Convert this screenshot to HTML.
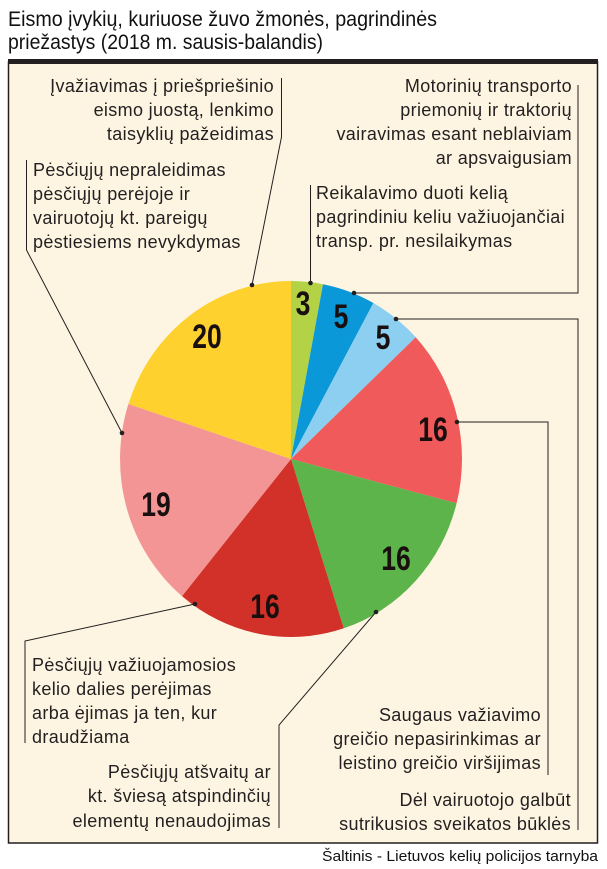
<!DOCTYPE html>
<html><head><meta charset="utf-8"><style>
body{margin:0;width:607px;height:869px;background:#fff;overflow:hidden}
svg{display:block}
.t{font-family:"Liberation Sans",sans-serif;font-size:18px;letter-spacing:0.35px;fill:#231f20}
.n{font-family:"Liberation Sans",sans-serif;font-weight:bold;font-size:34px;fill:#1a0f0f;text-anchor:middle}
</style></head><body>
<svg width="607" height="869" viewBox="0 0 607 869">
<text x="8" y="26" textLength="429" lengthAdjust="spacingAndGlyphs" style="font-family:'Liberation Sans',sans-serif;font-size:21px;fill:#111">Eismo įvykių, kuriuose žuvo žmonės, pagrindinės</text>
<text x="8" y="49" textLength="315" lengthAdjust="spacingAndGlyphs" style="font-family:'Liberation Sans',sans-serif;font-size:21px;fill:#111">priežastys (2018 m. sausis-balandis)</text>
<rect x="8.5" y="62" width="589" height="781" fill="#fdf5e2" stroke="#231f20" stroke-width="1.5"/>
<rect x="8" y="59" width="590" height="5" fill="#231f20"/>
<g stroke="none">
<path d="M291,459 L291,281 A171,178 0 0 1 323,284.2Z" fill="#b3d245"/>
<path d="M291,459 L323,284.2 A171,178 0 0 1 373.4,303Z" fill="#0a98d8"/>
<path d="M291,459 L373.4,303 A171,178 0 0 1 415.7,337.2Z" fill="#8ccff0"/>
<path d="M291,459 L415.7,337.2 A171,178 0 0 1 456.6,503.3Z" fill="#f15a5a"/>
<path d="M291,459 L456.6,503.3 A171,178 0 0 1 343.8,628.3Z" fill="#5cb44a"/>
<path d="M291,459 L343.8,628.3 A171,178 0 0 1 182,596.1Z" fill="#d13128"/>
<path d="M291,459 L182,596.1 A171,178 0 0 1 128.4,404Z" fill="#f39595"/>
<path d="M291,459 L128.4,404 A171,178 0 0 1 291,281Z" fill="#fed12e"/>
</g>
<g transform="translate(303,315) scale(0.78,1)"><text class="n" x="0" y="0">3</text></g>
<g transform="translate(341,328) scale(0.78,1)"><text class="n" x="0" y="0">5</text></g>
<g transform="translate(383,349) scale(0.78,1)"><text class="n" x="0" y="0">5</text></g>
<g transform="translate(433,441) scale(0.78,1)"><text class="n" x="0" y="0">16</text></g>
<g transform="translate(396,570) scale(0.78,1)"><text class="n" x="0" y="0">16</text></g>
<g transform="translate(265,618) scale(0.78,1)"><text class="n" x="0" y="0">16</text></g>
<g transform="translate(156,516) scale(0.78,1)"><text class="n" x="0" y="0">19</text></g>
<g transform="translate(207,348) scale(0.78,1)"><text class="n" x="0" y="0">20</text></g>
<g fill="none" stroke="#231f20" stroke-width="1">
<polyline points="281.5,78 281.5,137 252,285"/>
<polyline points="26.5,160 26.5,250 122,433"/>
<polyline points="310.5,185 310.5,283"/>
<polyline points="354,293 578,293 578,85"/>
<polyline points="396,319 578,319 578,830"/>
<polyline points="457,422 548,422 548,775"/>
<polyline points="376,612 279,725 279,828"/>
<polyline points="195,604 25,641 25,743"/>
</g>
<g fill="#231f20">
<circle cx="252" cy="285" r="2.3"/><circle cx="122" cy="433" r="2.3"/><circle cx="310.5" cy="283" r="2.3"/>
<circle cx="354" cy="293" r="2.3"/><circle cx="396" cy="319" r="2.3"/><circle cx="457" cy="422" r="2.3"/>
<circle cx="376" cy="612" r="2.3"/><circle cx="195" cy="604" r="2.3"/>
</g>
<g class="t" text-anchor="end">
<text x="274" y="92">Įvažiavimas į priešpriešinio</text>
<text x="274" y="116">eismo juostą, lenkimo</text>
<text x="274" y="140">taisyklių pažeidimas</text>
<text x="572" y="92">Motorinių transporto</text>
<text x="572" y="116">priemonių ir traktorių</text>
<text x="572" y="140">vairavimas esant neblaiviam</text>
<text x="572" y="164">ar apsvaigusiam</text>
<text x="271" y="778">Pėsčiųjų atšvaitų ar</text>
<text x="271" y="802">kt. šviesą atspindinčių</text>
<text x="271" y="827">elementų nenaudojimas</text>
<text x="541" y="721">Saugaus važiavimo</text>
<text x="541" y="745">greičio nepasirinkimas ar</text>
<text x="541" y="769">leistino greičio viršijimas</text>
<text x="571" y="806">Dėl vairuotojo galbūt</text>
<text x="571" y="830">sutrikusios sveikatos būklės</text>
</g>
<g class="t">
<text x="33" y="176">Pėsčiųjų nepraleidimas</text>
<text x="33" y="200">pėsčiųjų perėjoje ir</text>
<text x="33" y="224">vairuotojų kt. pareigų</text>
<text x="33" y="248">pėstiesiems nevykdymas</text>
<text x="316" y="199">Reikalavimo duoti kelią</text>
<text x="316" y="223">pagrindiniu keliu važiuojančiai</text>
<text x="316" y="247">transp. pr. nesilaikymas</text>
<text x="32" y="671">Pėsčiųjų važiuojamosios</text>
<text x="32" y="695">kelio dalies perėjimas</text>
<text x="32" y="719">arba ėjimas ja ten, kur</text>
<text x="32" y="743">draudžiama</text>
</g>
<text x="322" y="861" textLength="276" lengthAdjust="spacingAndGlyphs" style="font-family:'Liberation Sans',sans-serif;font-size:15px;fill:#111">Šaltinis - Lietuvos kelių policijos tarnyba</text>
</svg>
</body></html>
